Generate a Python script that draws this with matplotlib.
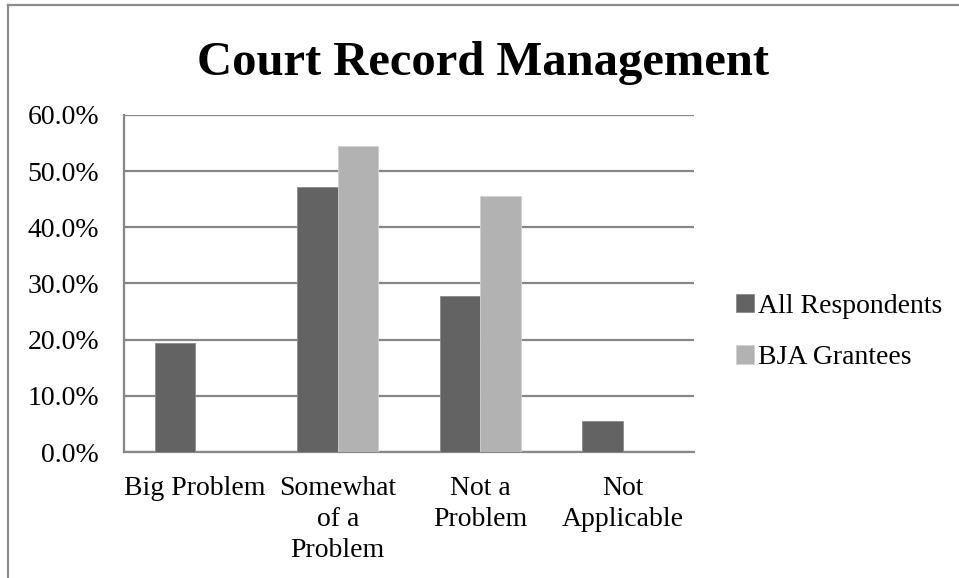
import matplotlib
matplotlib.use("Agg")
import matplotlib.pyplot as plt
import numpy as np
from matplotlib.lines import Line2D
from matplotlib.ticker import FuncFormatter, MultipleLocator

categories = ["Big Problem", "Somewhat\nof a\nProblem", "Not a\nProblem", "Not\nApplicable"]
all_respondents = [0.194, 0.472, 0.278, 0.056]
bja_grantees = [0.0, 0.545, 0.455, 0.0]
series_names = ["All Respondents", "BJA Grantees"]
title = "Court Record Management"

FONT = "Liberation Serif"
W, H = 959, 578
fig = plt.figure(figsize=(W / 100, H / 100), dpi=100)
fig.patch.set_facecolor("white")

ax = fig.add_axes([124 / W, 1 - 452 / H, (694 - 124) / W, (452 - 115) / H])
x = np.arange(len(categories))
w = 1 / 3.5
c_dark = "#636363"
c_light = "#b2b2b2"
ax.bar(x - w / 2, all_respondents, w, color=c_dark, edgecolor="#8a8a8a", linewidth=0.6, label=series_names[0], zorder=3)
ax.bar(x + w / 2, bja_grantees, w, color=c_light, edgecolor="#d0d0d0", linewidth=0.6, label=series_names[1], zorder=3)

ax.set_xlim(-0.5, len(categories) - 0.5)
ax.set_ylim(0, 0.6)
ax.yaxis.set_major_locator(MultipleLocator(0.1))
ax.yaxis.set_major_formatter(FuncFormatter(lambda v, p: f"{v * 100:.1f}%"))
ax.grid(axis="y", color="#878787", linewidth=1.6, zorder=0)
ax.set_axisbelow(True)
for s in ["top", "right"]:
    ax.spines[s].set_visible(False)
for s in ["left", "bottom"]:
    ax.spines[s].set_color("#878787")
    ax.spines[s].set_linewidth(1.6)
ax.tick_params(axis="both", length=0)
ax.tick_params(axis="y", pad=18)
ax.tick_params(axis="x", pad=17)
ax.set_xticks(x)
ax.set_xticklabels(categories, linespacing=1.32)
for lab in ax.get_xticklabels() + ax.get_yticklabels():
    lab.set_fontfamily(FONT)
    lab.set_fontsize(20)
    lab.set_color("black")

fig.text(483 / W, 1 - 75 / H, title, ha="center", va="baseline",
         fontfamily=FONT, fontweight="bold", fontsize=35)

handles, labels = ax.get_legend_handles_labels()
leg = fig.legend(handles, labels, loc="center left", bbox_to_anchor=(736 / W, 1 - 332 / H),
                 frameon=False, prop={"family": FONT, "size": 20},
                 handlelength=0.65, handleheight=0.65, handletextpad=0.15, labelspacing=0.95,
                 borderaxespad=0, borderpad=0)

fig.add_artist(Line2D([8 / W, 8 / W], [0, 1 - 5 / H], color="#8c8c8c", linewidth=1.6, transform=fig.transFigure))
fig.add_artist(Line2D([8 / W, 1], [1 - 5 / H, 1 - 5 / H], color="#8c8c8c", linewidth=1.6, transform=fig.transFigure))

fig.savefig("out.png", dpi=100)
